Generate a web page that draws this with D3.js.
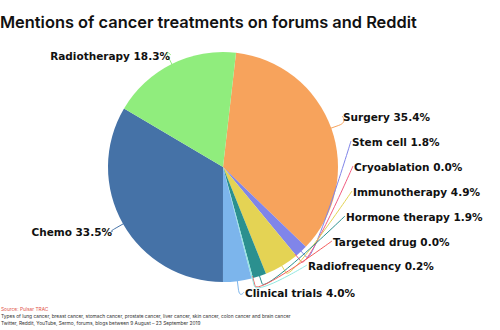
<!DOCTYPE html>
<html>
<head>
<meta charset="utf-8">
<script src="https://cdn.jsdelivr.net/npm/d3@7"></script>
<style>
  html, body { margin: 0; padding: 0; background: #ffffff; }
  svg { display: block; }
</style>
</head>
<body>
<svg id="chart" width="500" height="330"></svg>
<script>
// Share of mentions (%) per treatment, in drawing order (clockwise)
const categories = ["Surgery", "Stem cell", "Cryoablation", "Immunotherapy", "Hormone therapy",
                    "Targeted drug", "Radiofrequency", "Clinical trials", "Chemo", "Radiotherapy"];
const shares = [35.4, 1.8, 0.0, 4.9, 1.9, 0.0, 0.2, 4.0, 33.5, 18.3];

const titleText = "Mentions of cancer treatments on forums and Reddit";
const sourceText = "Source: Pulsar TRAC";
const noteLines = [
  "Types of lung cancer, breast cancer, stomach cancer, prostate cancer, liver cancer, skin cancer, colon cancer and brain cancer",
  "Twitter, Reddit, YouTube, Sermo, forums, blogs between 9 August \u2013 23 September 2019"
];

// Slice colours
const palette = ["#f7a35c", "#8085e9", "#f15c80", "#e4d354", "#2b908f",
                 "#f45b5b", "#91e8e1", "#7cb5ec", "#4572a7", "#90ed7d"];

// Label placement: anchor point and side for every data label
const labelSlots = {
  "Surgery":         { x: 343, y: 117, side: "right" },
  "Stem cell":       { x: 352, y: 142, side: "right" },
  "Cryoablation":    { x: 354, y: 167, side: "right" },
  "Immunotherapy":   { x: 353, y: 192, side: "right" },
  "Hormone therapy": { x: 346, y: 217, side: "right" },
  "Targeted drug":   { x: 333, y: 242, side: "right" },
  "Radiofrequency":  { x: 308, y: 266, side: "right" },
  "Clinical trials": { x: 245, y: 293, side: "right" },
  "Chemo":           { x: 112, y: 232, side: "left" },
  "Radiotherapy":    { x: 170, y: 56,  side: "left" }
};

const data = categories.map((c, i) => ({ name: c, value: shares[i], color: palette[i] }));

const svg = d3.select("#chart");
const cx = 223, cy = 167, radius = 115;
const startAngle = 6.5 * Math.PI / 180;

const pie = d3.pie()
  .sort(null)
  .value(d => d.value)
  .startAngle(startAngle)
  .endAngle(startAngle + 2 * Math.PI);

const arc = d3.arc().innerRadius(0).outerRadius(radius);
const arcs = pie(data);

const g = svg.append("g").attr("transform", `translate(${cx},${cy})`);

g.selectAll("path.slice")
  .data(arcs)
  .join("path")
  .attr("class", "slice")
  .attr("d", arc)
  .attr("fill", d => d.data.color);

// Connectors: soft curve from the label to a break point just outside the rim,
// then a straight segment to the rim at the slice's mid angle
const polar = (a, r) => [Math.sin(a) * r, -Math.cos(a) * r];

const connectors = svg.append("g").attr("fill", "none").attr("stroke-width", 1);
arcs.forEach(d => {
  const slot = labelSlots[d.data.name];
  const mid = (d.startAngle + d.endAngle) / 2;
  const edge = polar(mid, radius - 2);
  const brk = polar(mid, radius + 8);
  const ex = cx + edge[0], ey = cy + edge[1];
  const bx = cx + brk[0], by = cy + brk[1];
  const lx = slot.x + (slot.side === "right" ? -1 : 1);
  const ly = slot.y - 1;
  const p = d3.path();
  p.moveTo(lx, ly);
  p.bezierCurveTo(lx, ly, 2 * bx - ex, 2 * by - ey, bx, by);
  p.lineTo(ex, ey);
  connectors.append("path")
    .attr("d", p.toString())
    .attr("stroke", d.data.color);
});

// Data labels
svg.append("g")
  .selectAll("text")
  .data(arcs)
  .join("text")
  .attr("x", d => labelSlots[d.data.name].x)
  .attr("y", d => labelSlots[d.data.name].y)
  .attr("dy", "0.36em")
  .attr("text-anchor", d => labelSlots[d.data.name].side === "right" ? "start" : "end")
  .attr("font-family", "'DejaVu Sans', Verdana, sans-serif")
  .attr("font-weight", "bold")
  .attr("font-size", "10.5px")
  .attr("fill", "#111111")
  .text(d => `${d.data.name} ${d3.format(".1f")(d.data.value)}%`);

// Title, sized to span the header width
const title = svg.append("text")
  .attr("x", 0)
  .attr("y", 28)
  .attr("font-family", "Inter, 'Noto Sans', sans-serif")
  .attr("font-weight", 600)
  .attr("font-size", "16px")
  .attr("fill", "#111111")
  .text(titleText);
const tw = title.node().getComputedTextLength();
title.attr("font-size", (16 * 417 / tw).toFixed(2) + "px");

// Footer: source and notes
const footFont = "Inter, 'Noto Sans', sans-serif";
const src = svg.append("text")
  .attr("x", 1)
  .attr("y", 311)
  .attr("font-family", footFont)
  .attr("font-size", "5.6px")
  .attr("fill", "#e2574c")
  .text(sourceText);

const notes = noteLines.map((t, i) => svg.append("text")
  .attr("x", 1)
  .attr("y", 318 + i * 6.6)
  .attr("font-family", footFont)
  .attr("font-size", "5.6px")
  .attr("fill", "#333333")
  .text(t));

// Keep the longest note line ending near the chart's mid width
const nw = notes[0].node().getComputedTextLength();
const footSize = (5.6 * 290 / nw).toFixed(2) + "px";
notes.forEach(n => n.attr("font-size", footSize));
src.attr("font-size", footSize);
</script>
</body>
</html>
